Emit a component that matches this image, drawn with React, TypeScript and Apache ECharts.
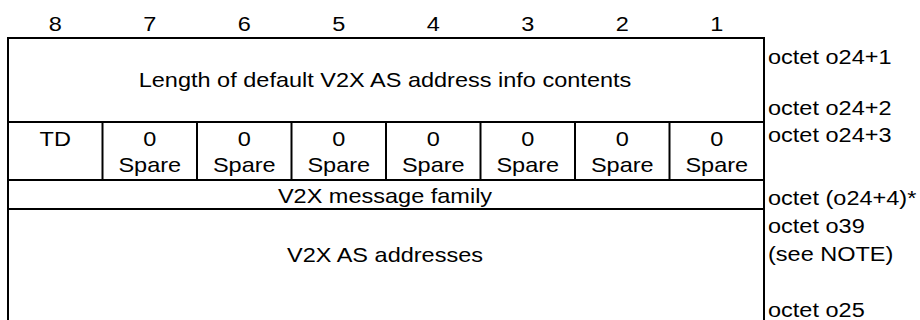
import React, { useEffect, useRef } from "react";
import * as echarts from "echarts";

// ---- data ----
const bitLabels: string[] = ["8", "7", "6", "5", "4", "3", "2", "1"];
const spareTop: string[] = ["0", "0", "0", "0", "0", "0", "0"];
const spareBottom: string[] = ["Spare", "Spare", "Spare", "Spare", "Spare", "Spare", "Spare"];
const firstBitLabel = "TD";
const lengthField = "Length of default V2X AS address info contents";
const familyField = "V2X message family";
const addressField = "V2X AS addresses";
const octetLabels: string[] = [
  "octet o24+1",
  "octet o24+2",
  "octet o24+3",
  "octet (o24+4)*",
  "octet o39",
  "(see NOTE)",
  "octet o25",
];

// ---- layout ----
const LEFT = 8;
const RIGHT = 764;
const COLW = (RIGHT - LEFT) / 8;
const TOP = 38;
const ROW1_B = 122;
const ROW2_B = 180;
const ROW3_B = 209;
const BOTTOM = 322;
const FONT = "'Liberation Sans', Arial, Helvetica, sans-serif";
const FS = 21;
const SX = 1.12;
const LW = 2;

function txt(text: string, x: number, y: number, align: string = "center") {
  return {
    type: "text",
    x,
    y,
    scaleX: SX,
    silent: true,
    style: {
      text,
      x: 0,
      y: 0,
      fill: "#000",
      font: `${FS}px ${FONT}`,
      fontSize: FS,
      fontFamily: FONT,
      textAlign: align,
      textVerticalAlign: "middle",
      verticalAlign: "middle",
    },
  };
}

function ln(x1: number, y1: number, x2: number, y2: number) {
  return {
    type: "line",
    silent: true,
    shape: { x1, y1, x2, y2 },
    style: { stroke: "#000", lineWidth: LW },
  };
}

export default function App() {
  const ref = useRef<HTMLDivElement>(null);
  useEffect(() => {
    if (!ref.current) return;
    const chart = echarts.init(ref.current, undefined, { renderer: "svg" });
    const els: any[] = [];
    const colCenter = (i: number) => LEFT + COLW * (i + 0.5);
    const midX = (LEFT + RIGHT) / 2 - 1;

    // bit numbers
    bitLabels.forEach((b, i) => els.push(txt(b, colCenter(i), 24)));

    // lines
    els.push(ln(LEFT - 1, TOP, RIGHT + 1, TOP));
    els.push(ln(LEFT - 1, ROW1_B, RIGHT + 1, ROW1_B));
    els.push(ln(LEFT - 1, ROW2_B, RIGHT + 1, ROW2_B));
    els.push(ln(LEFT - 1, ROW3_B, RIGHT + 1, ROW3_B));
    els.push(ln(LEFT, TOP - 1, LEFT, BOTTOM));
    els.push(ln(RIGHT, TOP - 1, RIGHT, BOTTOM));
    for (let k = 1; k < 8; k++) {
      const x = LEFT + COLW * k;
      els.push(ln(x, ROW1_B, x, ROW2_B));
    }

    // row 1
    els.push(txt(lengthField, midX, 80));
    // row 2
    els.push(txt(firstBitLabel, colCenter(0), 139));
    spareTop.forEach((t, i) => els.push(txt(t, colCenter(i + 1), 139)));
    spareBottom.forEach((t, i) => els.push(txt(t, colCenter(i + 1), 165)));
    // row 3
    els.push(txt(familyField, midX, 195.5));
    // row 4
    els.push(txt(addressField, midX, 255));

    // octet labels
    const labelX = RIGHT + 4;
    const labelY = [56.5, 107.5, 134.5, 197.5, 226, 254, 309.5];
    octetLabels.forEach((t, i) => els.push(txt(t, labelX, labelY[i], "left")));

    chart.setOption({
      animation: false,
      backgroundColor: "#fff",
      graphic: { elements: els },
    });
    return () => chart.dispose();
  }, []);
  return (
    <div
      ref={ref}
      style={{ position: "fixed", left: 0, top: 0, width: 920, height: 320, background: "#fff" }}
    />
  );
}
